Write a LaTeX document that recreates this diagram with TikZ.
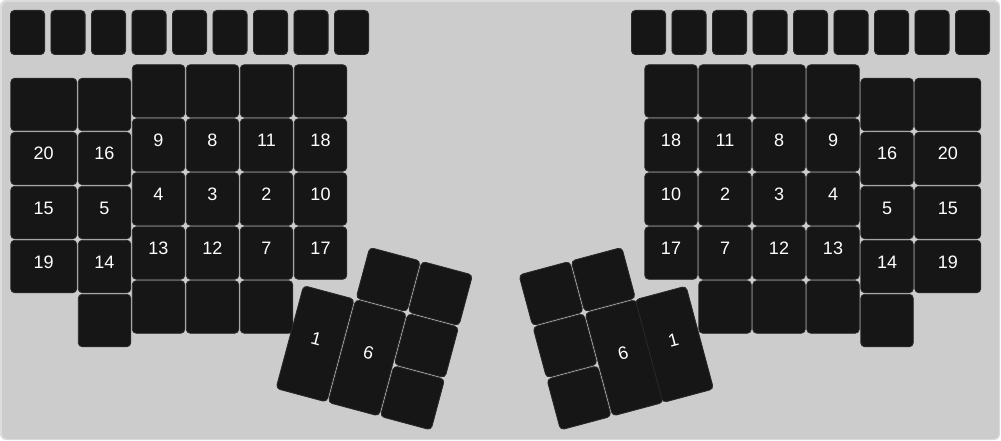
\documentclass[tikz,border=0pt]{standalone}
\usepackage{fontspec}
\setmainfont{Liberation Sans}
\definecolor{plate}{HTML}{CCCCCC}
\definecolor{rim}{HTML}{DDDDDD}
\definecolor{cap}{HTML}{161616}
\definecolor{capedge}{HTML}{2A2A2A}
\tikzset{
  key/.style={draw=capedge, fill=cap, line width=.8pt, rounded corners=4pt,
    inner sep=0pt, minimum width=52.5pt, minimum height=52.5pt, text=white,
    font=\fontsize{18}{18}\selectfont, text height=13pt, text depth=10pt},
  wide/.style={minimum width=66pt},
  tall/.style={minimum height=106.5pt},
  fkey/.style={key, minimum width=34.2pt, minimum height=44.2pt},
}
\begin{document}
\begin{tikzpicture}[x=1pt,y=-1pt]
  \useasboundingbox (0,0) rectangle (1001,441);
  \fill[rim, rounded corners=6pt] (0,0) rectangle (1000,440);
  \fill[plate, rounded corners=5pt] (2,2) rectangle (999,439);

  % function rows
  \foreach \i in {0,...,8} {
    \node[fkey] (lfn\i) at ({27.5+40.5*\i},32.5) {};
    \node[fkey] (rfn\i) at ({648.5+40.5*\i},32.5) {};
  }

  % left hand
  \foreach \lab [count=\r from 0] in {{},20,15,19}
    \node[key,wide] (la\r) at (43.75,{104.5+54*\r}) {\lab};
  \foreach \lab [count=\r from 0] in {{},16,5,14,{}}
    \node[key] (lb\r) at (104.5,{104.5+54*\r}) {\lab};
  \foreach \lab [count=\r from 0] in {{},9,4,13,{}}
    \node[key] (lc\r) at (158.5,{91+54*\r}) {\lab};
  \foreach \lab [count=\r from 0] in {{},8,3,12,{}}
    \node[key] (ld\r) at (212.5,{91+54*\r}) {\lab};
  \foreach \lab [count=\r from 0] in {{},11,2,7,{}}
    \node[key] (le\r) at (266.5,{91+54*\r}) {\lab};
  \foreach \lab [count=\r from 0] in {{},18,10,17}
    \node[key] (lf\r) at (320.5,{91+54*\r}) {\lab};

  % right hand
  \foreach \lab [count=\r from 0] in {{},18,10,17}
    \node[key] (ra\r) at (671,{91+54*\r}) {\lab};
  \foreach \lab [count=\r from 0] in {{},11,2,7,{}}
    \node[key] (rb\r) at (725,{91+54*\r}) {\lab};
  \foreach \lab [count=\r from 0] in {{},8,3,12,{}}
    \node[key] (rc\r) at (779,{91+54*\r}) {\lab};
  \foreach \lab [count=\r from 0] in {{},9,4,13,{}}
    \node[key] (rd\r) at (833,{91+54*\r}) {\lab};
  \foreach \lab [count=\r from 0] in {{},16,5,14,{}}
    \node[key] (re\r) at (887,{104.5+54*\r}) {\lab};
  \foreach \lab [count=\r from 0] in {{},20,15,19}
    \node[key,wide] (rf\r) at (947.75,{104.5+54*\r}) {\lab};

  % thumb clusters
  \begin{scope}[shift={(317,232.5)}, rotate=-15, every node/.append style={transform shape}]
    \node[key] (lt1) at (81,27) {};
    \node[key] (lt2) at (135,27) {};
    \node[key,tall] (lt3) at (27,108) {1};
    \node[key,tall] (lt4) at (81,108) {6};
    \node[key] (lt5) at (135,81) {};
    \node[key] (lt6) at (135,135) {};
  \end{scope}

  \begin{scope}[shift={(674.5,232.5)}, rotate=15, every node/.append style={transform shape}]
    \node[key] (rt1) at (-81,27) {};
    \node[key] (rt2) at (-135,27) {};
    \node[key,tall] (rt4) at (-81,108) {6};
    \node[key,tall] (rt3) at (-29,108) {1};
    \node[key] (rt5) at (-135,81) {};
    \node[key] (rt6) at (-135,135) {};
  \end{scope}

\end{tikzpicture}
\end{document}
